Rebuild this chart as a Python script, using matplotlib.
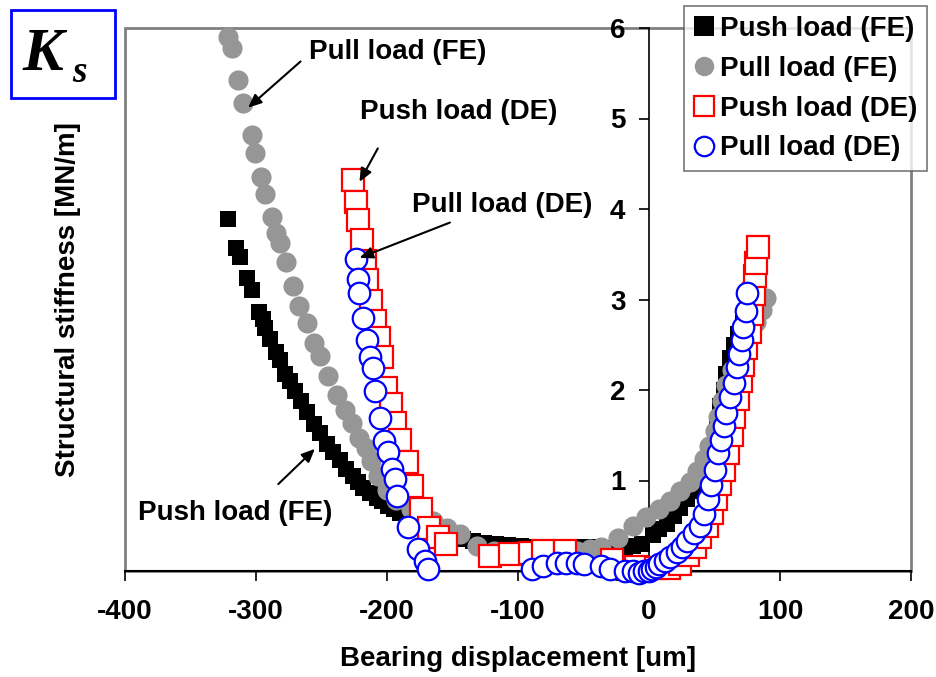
import matplotlib.pyplot as plt
from matplotlib.patches import Rectangle

# Push load (FE) - black squares
push_fe_x = [-321, -315, -312, -307, -303, -298, -295, -293, -289, -285, -282, -278, -274, -270,
             -266, -261, -256, -251, -246, -241, -236, -231, -226, -222, -218, -213, -208, -204,
             -199, -195, -190, -185, -180, -175, -169, -163, -157, -150, -142, -134, -126, -117,
             -108, -98, -88, -78, -68, -58, -48, -38, -28, -18, -12,
             -5, 3, 8, 14, 19, 24, 29, 33, 37, 41, 44, 47, 50, 52, 54, 57, 59, 62, 65, 68, 72, 76, 80]
push_fe_y = [3.89, 3.57, 3.47, 3.24, 3.10, 2.86, 2.78, 2.69, 2.56, 2.42, 2.33, 2.18, 2.10, 1.99,
             1.88, 1.76, 1.62, 1.52, 1.40, 1.31, 1.23, 1.13, 1.05, 0.98, 0.92, 0.86, 0.81, 0.77,
             0.72, 0.68, 0.64, 0.59, 0.54, 0.50, 0.45, 0.41, 0.39, 0.37, 0.35, 0.33, 0.31, 0.30,
             0.29, 0.28, 0.27, 0.27, 0.26, 0.26, 0.26, 0.26, 0.25, 0.26, 0.28,
             0.30, 0.40, 0.46, 0.52, 0.61, 0.70, 0.80, 0.88, 0.96, 1.08, 1.20, 1.34, 1.50, 1.65,
             1.82, 2.00, 2.18, 2.35, 2.50, 2.62, 2.74, 2.85, 2.95]

# Pull load (FE) - gray circles
pull_fe_x = [-321, -318, -314, -310, -303, -301, -296, -293, -288, -285, -282, -277, -272, -267,
             -261, -256, -251, -245, -238, -232, -227, -221, -216, -212, -207, -200, -193, -182,
             -172, -165, -154, -144, -131, -118, -105, -92, -80, -68, -55, -45, -37, -24, -12,
             -2, 8, 16, 24, 31, 37, 42, 46, 50, 53, 56, 59, 63, 69, 74, 78, 82, 86, 89]
pull_fe_y = [5.90, 5.78, 5.43, 5.17, 4.82, 4.62, 4.35, 4.17, 3.91, 3.74, 3.62, 3.41, 3.15, 2.93,
             2.74, 2.52, 2.38, 2.15, 1.95, 1.78, 1.63, 1.47, 1.36, 1.22, 1.05, 0.90, 0.79, 0.68,
             0.60, 0.55, 0.48, 0.41, 0.28, 0.22, 0.19, 0.18, 0.18, 0.19, 0.22, 0.24, 0.26, 0.37,
             0.50, 0.60, 0.68, 0.77, 0.88, 0.98, 1.10, 1.24, 1.38, 1.55, 1.70, 1.88, 2.06, 2.22,
             2.37, 2.50, 2.62, 2.75, 2.88, 3.02]

# Push load (DE) - red open squares
push_de_x = [-226, -224, -222, -219, -217, -215, -212, -209, -206, -204, -201, -197, -194, -190,
             -185, -181, -174, -168, -161, -155, -121, -106, -91, -81, -64, -28, -10, 5, 15,
             24, 30, 35, 39, 44, 48, 51, 54, 57, 60, 63, 65, 68, 70, 72, 74, 77, 79, 80, 81, 82, 83]
push_de_y = [4.32, 4.08, 3.88, 3.66, 3.43, 3.22, 2.98, 2.76, 2.58, 2.36, 2.02, 1.85, 1.64, 1.45,
             1.20, 0.94, 0.68, 0.48, 0.38, 0.30, 0.17, 0.19, 0.20, 0.22, 0.22, 0.12, 0.04, 0.03, 0.03,
             0.08, 0.18, 0.27, 0.38, 0.50, 0.64, 0.80, 0.96, 1.12, 1.30, 1.50, 1.70, 1.90, 2.10,
             2.28, 2.46, 2.64, 2.84, 3.06, 3.26, 3.40, 3.58]

# Pull load (DE) - blue open circles
pull_de_x = [-224, -222, -221, -218, -215, -213, -211, -209, -205, -202, -199, -196, -194, -192,
             -184, -176, -171, -169, -89, -81, -70, -63, -55, -50, -37, -30, -18, -12, -8, -4,
             0, 2, 5, 8, 12, 16, 21, 25, 29, 34, 39, 42, 45, 47, 50, 53, 55, 57, 59, 62, 65, 67,
             69, 71, 72, 74, 75]
pull_de_y = [3.45, 3.23, 3.07, 2.80, 2.55, 2.36, 2.24, 1.99, 1.69, 1.44, 1.31, 1.13, 1.02, 0.83,
             0.49, 0.24, 0.11, 0.02, 0.02, 0.06, 0.09, 0.09, 0.09, 0.08, 0.05, 0.02, 0.00, 0.00,
             -0.02, 0.00, 0.00, 0.02, 0.04, 0.08, 0.11, 0.15, 0.21, 0.27, 0.33, 0.42, 0.50, 0.63,
             0.80, 0.95, 1.12, 1.30, 1.45, 1.60, 1.75, 1.92, 2.08, 2.25, 2.40, 2.55, 2.70, 2.87, 3.07]

x_ticks = [-400, -300, -200, -100, 0, 100, 200]
y_ticks = [0, 1, 2, 3, 4, 5, 6]

FONT = "Liberation Sans"
FS = 20

fig = plt.figure(figsize=(9.37, 6.77), dpi=100)
W, H = 937, 677
ax = fig.add_axes([125 / W, 1 - 571 / H, (911 - 125) / W, (571 - 28) / H])

ax.plot(push_fe_x, push_fe_y, "s", color="black", markersize=11, markeredgewidth=0,
        label="Push load (FE)", clip_on=False, zorder=3)
ax.plot(pull_fe_x, pull_fe_y, "o", color="#969696", markersize=14.5, markeredgewidth=0,
        label="Pull load (FE)", clip_on=False, zorder=4)
ax.plot(push_de_x, push_de_y, "s", markerfacecolor="white", markeredgecolor="#ff0000",
        markersize=15.5, markeredgewidth=1.6, label="Push load (DE)", clip_on=False, zorder=5)
ax.plot(pull_de_x, pull_de_y, "o", markerfacecolor="white", markeredgecolor="#0000ff",
        markersize=15.5, markeredgewidth=1.6, label="Pull load (DE)", clip_on=False, zorder=6)

ax.set_xlim(-400, 200)
ax.set_ylim(0, 6)

# frame: gray left/top/right, black bottom, y axis at x=0
for side in ["top", "right"]:
    ax.spines[side].set_visible(False)
ax.add_patch(Rectangle((0, 0), 1, 1, transform=ax.transAxes, fill=False,
                       edgecolor="#808080", linewidth=2, zorder=1, clip_on=False))
ax.spines["left"].set_position(("data", 0))
ax.spines["left"].set_color("black")
ax.spines["left"].set_linewidth(1.2)
ax.spines["left"].set_zorder(2)
ax.spines["bottom"].set_color("black")
ax.spines["bottom"].set_linewidth(1.5)

ax.set_xticks(x_ticks)
ax.set_yticks(y_ticks)
ax.set_xticklabels([str(v) for v in x_ticks])
ax.set_yticklabels([str(v) for v in y_ticks])
ax.tick_params(axis="x", direction="out", length=7, width=1.2, pad=13)
ax.tick_params(axis="y", direction="out", length=7, width=1.2, pad=10)
for lab in ax.get_xticklabels() + ax.get_yticklabels():
    lab.set_fontfamily(FONT)
    lab.set_fontweight("bold")
    lab.set_fontsize(FS)

ax.set_xlabel("Bearing displacement [um]", fontfamily=FONT, fontweight="bold", fontsize=FS,
              labelpad=15)
fig.text(68 / W, 1 - 300 / H, "Structural stiffness [MN/m]", rotation=90, ha="center",
         va="center", fontfamily=FONT, fontweight="bold", fontsize=FS)

# annotations
labels = [
    ("Pull load (FE)", (-192, 5.74), (-306, 5.12), (-266, 5.63)),
    ("Push load (DE)", (-145, 5.07), (-221, 4.30), (-207, 4.67)),
    ("Pull load (DE)", (-112, 4.04), (-221, 3.46), (-152, 3.85)),
    ("Push load (FE)", (-316, 0.64), (-255, 1.35), (-283, 0.96)),
]
for text, tpos, head, tail in labels:
    ax.text(tpos[0], tpos[1], text, ha="center", va="center", fontfamily=FONT,
            fontweight="bold", fontsize=FS, zorder=8)
    ax.annotate("", xy=head, xytext=tail,
                arrowprops=dict(arrowstyle="-|>,head_length=0.8,head_width=0.35",
                                color="black", lw=1.5, shrinkA=0, shrinkB=0), zorder=8)

leg = fig.legend(loc="upper right", bbox_to_anchor=(927 / W, 1 - 6 / H), frameon=True,
                 fancybox=False, edgecolor="#555555", handlelength=0.75, handletextpad=0.2,
                 borderpad=0.35, labelspacing=0.5, borderaxespad=0,
                 prop={"family": FONT, "weight": "bold", "size": FS})
leg.get_frame().set_linewidth(1.2)
for h in leg.legend_handles:
    h.set_markersize(14)

# K_s box
fig.patches.append(Rectangle((11 / W, 1 - 98 / H), 104 / W, 88 / H, transform=fig.transFigure,
                             fill=False, edgecolor="#0000ff", linewidth=2))
fig.text(22 / W, 1 - 70 / H, "K", ha="left", va="baseline", fontfamily="Liberation Serif",
         fontweight="bold", fontstyle="italic", fontsize=44)
fig.text(72 / W, 1 - 82 / H, "s", ha="left", va="baseline", fontfamily="Liberation Serif",
         fontweight="bold", fontstyle="italic", fontsize=27)

fig.savefig("out.png", dpi=100)
